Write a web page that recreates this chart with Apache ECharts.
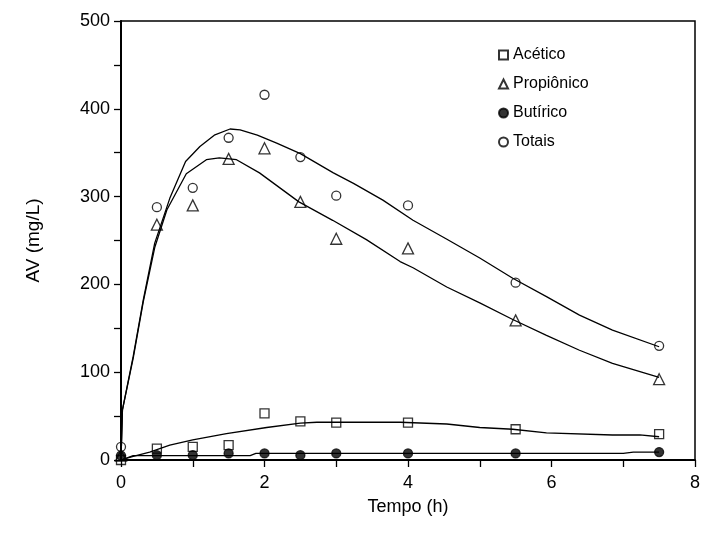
<!DOCTYPE html>
<html>
<head>
<meta charset="utf-8">
<script src="https://cdn.jsdelivr.net/npm/echarts@6/dist/echarts.min.js"></script>
<style>
  html, body { margin: 0; padding: 0; background: #fff; }
  #chart { width: 704px; height: 552px; }
</style>
</head>
<body>
<div id="chart"></div>
<script>
// tempos de coleta (h)
const tempo = [0, 0.5, 1, 1.5, 2, 2.5, 3, 4, 5.5, 7.5]

// valores medidos (mg/L)
const acetico = [0, 13, 15, 17, 53, 44, 42.5, 42.5, 35, 29.5]
const propionico = [5, 268, 290, 343, 355, 294, 252, 241, 159, 92]
const butirico = [5, 5.5, 5.5, 7.5, 7.5, 5.5, 7.5, 7.5, 7.5, 9]
const totais = [15, 288, 310, 367, 416, 345, 301, 290, 202, 130]

// curvas ajustadas [tempo, valor]
const ajusteTotais = [
  [0, 0], [0.02, 57], [0.04, 58], [0.17, 118], [0.31, 182], [0.47, 247], [0.68, 298],
  [0.9, 340], [1.1, 357], [1.3, 370], [1.52, 377], [1.66, 376], [1.9, 370], [2.17, 361],
  [2.5, 349], [2.96, 327], [3.24, 315], [3.65, 296], [4.07, 273], [4.53, 252], [5.0, 230],
  [5.46, 207], [5.93, 186], [6.39, 165], [6.85, 148], [7.5, 129]
]
const ajustePropionico = [
  [0, 0], [0.02, 57], [0.04, 58], [0.17, 116], [0.31, 180], [0.47, 242], [0.64, 285],
  [0.91, 326], [1.19, 342], [1.37, 344], [1.61, 342], [1.93, 327], [2.48, 294],
  [2.95, 273], [3.42, 251], [3.89, 226], [4.07, 219], [4.54, 197], [5.0, 179],
  [5.46, 160], [5.93, 142], [6.39, 125], [6.85, 110], [7.5, 94]
]
const ajusteAcetico = [
  [0, 0], [0.17, 4], [0.4, 9], [0.68, 17], [1.0, 23], [1.47, 30], [2.03, 37], [2.5, 42],
  [2.73, 43], [3.89, 43], [4.54, 41], [5.0, 37], [5.46, 35], [5.93, 31], [6.85, 28.5],
  [7.23, 28.5], [7.5, 26.5]
]
const ajusteButirico = [
  [0, 0], [0.17, 5], [1.8, 5], [1.88, 7.5], [7.0, 7.5], [7.14, 9], [7.5, 9]
]

const pares = (ys) => tempo.map((t, i) => [t, ys[i]])

const chart = echarts.init(document.getElementById('chart'))

const marcador = (name, symbol, size, data, filled) => ({
  name: name,
  type: 'scatter',
  symbol: symbol,
  symbolSize: size,
  clip: false,
  z: 5,
  itemStyle: {
    color: filled ? '#000' : 'rgba(0,0,0,0)',
    borderColor: '#000',
    borderWidth: 1.3
  },
  data: pares(data)
})

const curva = (data) => ({
  type: 'line',
  showSymbol: false,
  symbol: 'none',
  silent: true,
  z: 3,
  lineStyle: { color: '#000', width: 1.3 },
  data: data
})

chart.setOption({
  animation: false,
  textStyle: { fontFamily: 'Liberation Sans, Arial, sans-serif', color: '#000' },
  grid: {
    left: 121, right: 9, top: 21, bottom: 92,
    show: true, borderColor: '#000', borderWidth: 1.5
  },
  legend: {
    data: ['Acético', 'Propiônico', 'Butírico', 'Totais'],
    orient: 'vertical',
    left: 493,
    top: 42,
    itemWidth: 9,
    itemHeight: 9,
    itemGap: 13,
    itemTextGap: 6,
    textStyle: { fontSize: 16, color: '#000', fontFamily: 'Liberation Sans, Arial, sans-serif' }
  },
  xAxis: {
    type: 'value',
    min: 0, max: 8, interval: 1,
    name: 'Tempo (h)',
    nameLocation: 'middle',
    nameGap: 38,
    nameTextStyle: { fontSize: 18, color: '#000' },
    axisLine: { lineStyle: { color: '#000', width: 2 } },
    axisTick: { inside: false, length: 7, lineStyle: { color: '#000', width: 1.3 } },
    axisLabel: {
      fontSize: 18, color: '#000', margin: 14,
      formatter: (v) => (v % 2 === 0 ? String(v) : '')
    },
    splitLine: { show: false }
  },
  yAxis: {
    type: 'value',
    min: 0, max: 500, interval: 50,
    name: 'AV (mg/L)',
    nameLocation: 'middle',
    nameGap: 78,
    nameTextStyle: { fontSize: 19, color: '#000' },
    axisLine: { lineStyle: { color: '#000', width: 2 } },
    axisTick: { inside: false, length: 7, lineStyle: { color: '#000', width: 1.3 } },
    axisLabel: {
      fontSize: 18, color: '#000', margin: 11,
      formatter: (v) => (v % 100 === 0 ? String(v) : '')
    },
    splitLine: { show: false }
  },
  series: [
    curva(ajusteTotais),
    curva(ajustePropionico),
    curva(ajusteAcetico),
    curva(ajusteButirico),
    marcador('Acético', 'rect', 9, acetico, false),
    marcador('Propiônico', 'triangle', 11, propionico, false),
    marcador('Butírico', 'circle', 9, butirico, true),
    marcador('Totais', 'circle', 9, totais, false)
  ]
})
</script>
</body>
</html>
